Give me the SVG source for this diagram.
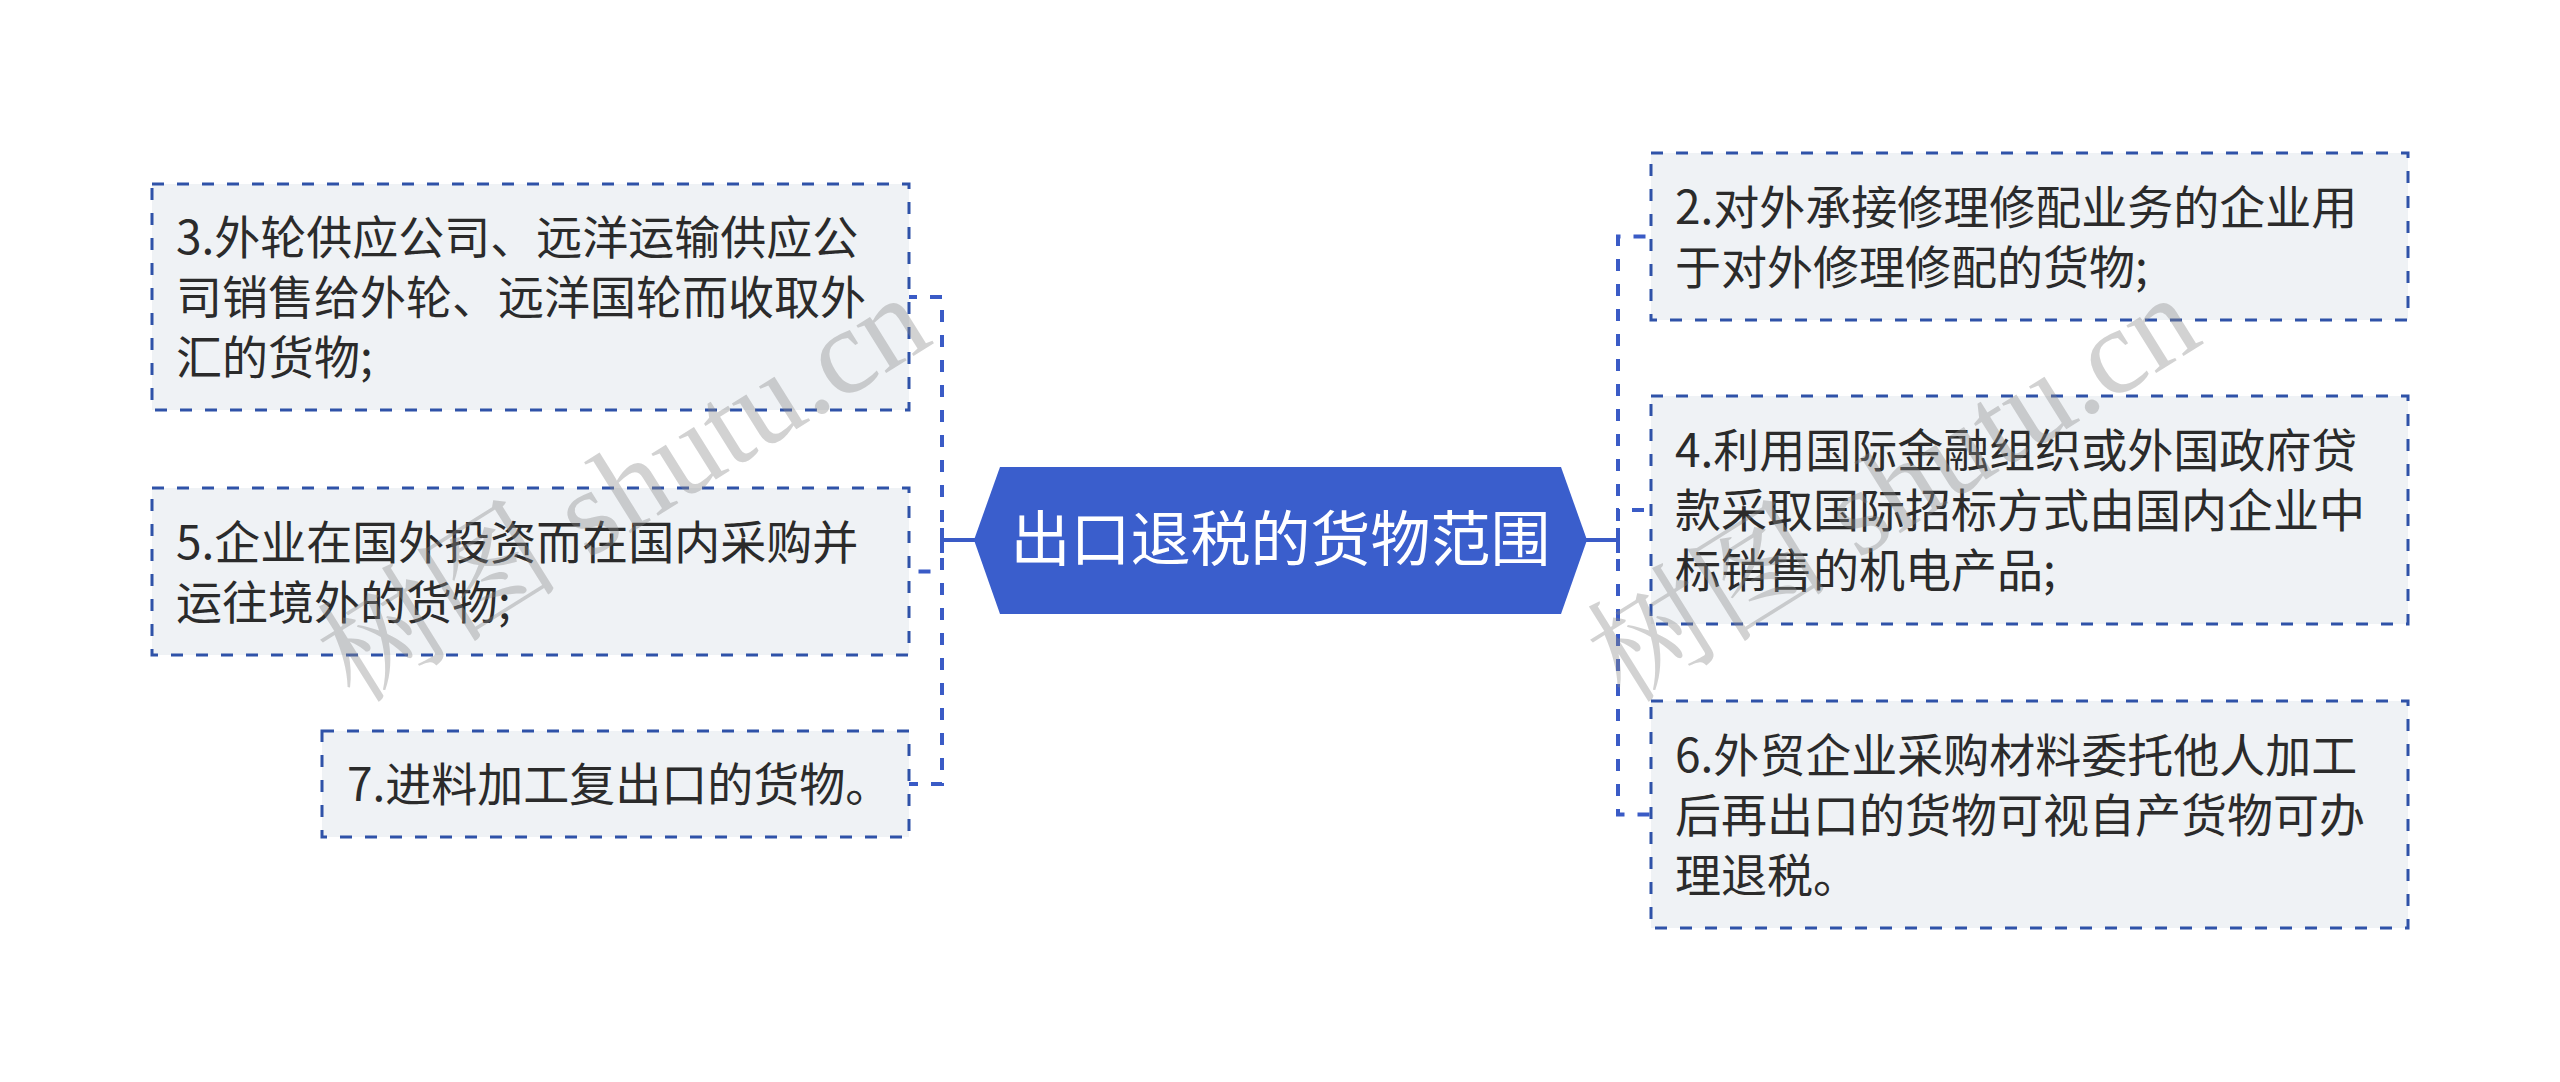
<svg xmlns="http://www.w3.org/2000/svg" width="2560" height="1082" viewBox="0 0 2560 1082">
<style>
.box{fill:#eff2f5;stroke:#2f52a8;stroke-width:3;stroke-dasharray:12 13}
.t{font-family:"Noto Sans CJK SC","Noto Sans",sans-serif;font-size:46px;fill:#2b2b2b}
.ct{font-family:"Noto Sans CJK SC","Noto Sans",sans-serif;font-size:60px;fill:#ffffff}
.c{fill:none;stroke:#3a5bc6;stroke-width:4;stroke-dasharray:12 13}
.cs{fill:none;stroke:#3a5bc6;stroke-width:4}
.wm{font-family:"Liberation Serif","Noto Serif CJK SC","Noto Sans CJK SC",serif;font-size:122px;fill:#8a8a8a;fill-opacity:0.38}
</style>
<rect width="2560" height="1082" fill="#ffffff"/>
<g id="connectors">
<path class="c" d="M974,540 H942 V297 H909"/>
<path class="c" d="M974,540 H942 V571.5 H909"/>
<path class="c" d="M974,540 H942 V784 H909"/>
<path class="c" d="M1587,540 H1618 V236.5 H1651"/>
<path class="c" d="M1587,540 H1618 V510 H1651"/>
<path class="c" d="M1587,540 H1618 V814.5 H1651"/>
<path class="cs" d="M942,540 H976 M942,528 V553"/>
<path class="cs" d="M1585,540 H1618 M1618,528 V553"/>
</g>
<g id="center">
<polygon points="974,540 1000,467 1561,467 1587,540 1561,614 1000,614" fill="#3a5ecc"/>
<text class="ct" x="1280.5" y="561" text-anchor="middle">出口退税的货物范围</text>
</g>
<g id="node3">
<rect class="box" x="152" y="184" width="757" height="226"/>
<text class="t" x="176"><tspan x="176" y="254">3.外轮供应公司、远洋运输供应公</tspan><tspan x="176" y="314">司销售给外轮、远洋国轮而收取外</tspan><tspan x="176" y="374">汇的货物;</tspan></text>
</g>
<g id="node5">
<rect class="box" x="152" y="488" width="757" height="167"/>
<text class="t"><tspan x="176" y="558.5">5.企业在国外投资而在国内采购并</tspan><tspan x="176" y="618.5">运往境外的货物;</tspan></text>
</g>
<g id="node7">
<rect class="box" x="322" y="731" width="587" height="106"/>
<text class="t" x="347" y="801">7.进料加工复出口的货物。</text>
</g>
<g id="node2">
<rect class="box" x="1651" y="153" width="757" height="167"/>
<text class="t"><tspan x="1675" y="223.5">2.对外承接修理修配业务的企业用</tspan><tspan x="1675" y="283.5">于对外修理修配的货物;</tspan></text>
</g>
<g id="node4">
<rect class="box" x="1651" y="396" width="757" height="228"/>
<text class="t"><tspan x="1675" y="467">4.利用国际金融组织或外国政府贷</tspan><tspan x="1675" y="527">款采取国际招标方式由国内企业中</tspan><tspan x="1675" y="587">标销售的机电产品;</tspan></text>
</g>
<g id="node6">
<rect class="box" x="1651" y="701" width="757" height="227"/>
<text class="t"><tspan x="1675" y="771.5">6.外贸企业采购材料委托他人加工</tspan><tspan x="1675" y="831.5">后再出口的货物可视自产货物可办</tspan><tspan x="1675" y="891.5">理退税。</tspan></text>
</g>
<g id="watermark">
<text class="wm" transform="translate(355,705) rotate(-32)">树图 shutu.cn</text>
<text class="wm" transform="translate(1625,705) rotate(-32)">树图 shutu.cn</text>
</g>
</svg>
